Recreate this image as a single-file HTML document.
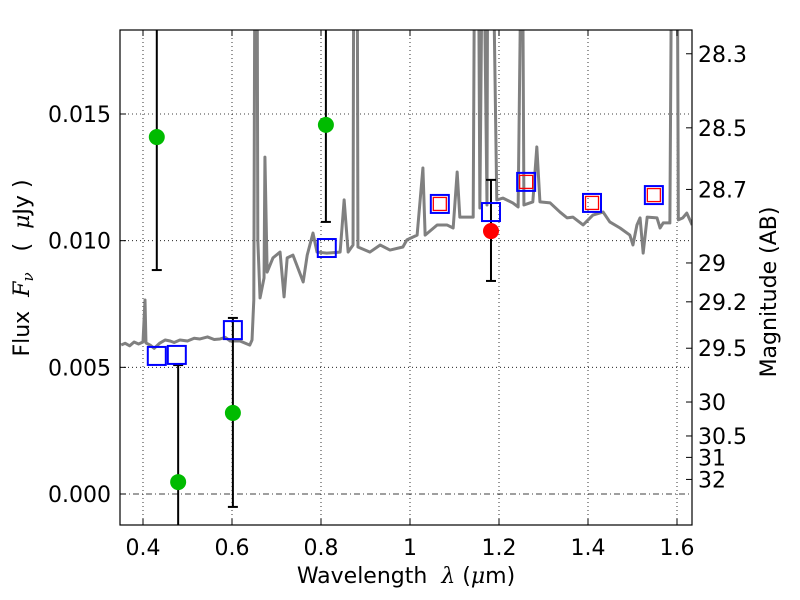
<!DOCTYPE html>
<html><head><meta charset="utf-8"><style>
body{margin:0;background:#fff;}
svg{display:block;font-family:"DejaVu Sans","Liberation Sans",sans-serif;}
</style></head><body>
<svg id="chart" width="800" height="600" xmlns="http://www.w3.org/2000/svg"></svg>
<script>
// data
const specWave=[0.351,0.360,0.370,0.380,0.390,0.400,0.4045,0.4067,0.416,0.425,0.438,0.450,0.461,0.470,0.483,0.500,0.515,0.528,0.545,0.560,0.573,0.585,0.596,0.618,0.634,0.640,0.645,0.649,0.652,0.656,0.658,0.663,0.672,0.674,0.679,0.692,0.708,0.717,0.724,0.737,0.760,0.769,0.782,0.791,0.813,0.843,0.852,0.861,0.872,0.874,0.881,0.883,0.910,0.933,0.955,0.984,0.993,1.016,1.029,1.034,1.061,1.083,1.097,1.106,1.112,1.142,1.146,1.153,1.157,1.164,1.173,1.175,1.184,1.195,1.209,1.231,1.243,1.252,1.256,1.276,1.285,1.292,1.315,1.337,1.353,1.366,1.389,1.411,1.434,1.449,1.472,1.494,1.501,1.510,1.517,1.524,1.533,1.555,1.562,1.569,1.584,1.589,1.600,1.603,1.613,1.622,1.634];
const specFlux=[5.88,5.95,5.85,6.00,5.92,6.00,7.66,5.96,5.88,5.75,5.96,6.08,6.04,5.98,6.08,6.04,6.15,6.12,6.20,6.10,6.12,6.18,6.04,6.04,5.92,5.88,6.08,7.66,25,25,10.03,7.74,8.53,13.30,8.76,9.32,9.55,7.78,9.32,9.43,8.37,9.43,10.30,9.55,9.51,9.55,11.61,9.55,9.83,25,25,9.75,9.55,9.83,9.63,9.75,10.03,10.22,12.87,10.22,10.62,10.62,10.50,12.71,10.93,10.93,25,25,11.29,25,11.41,25,25,11.61,11.68,11.49,11.33,25,11.41,11.53,13.70,11.53,11.49,11.13,10.90,10.93,10.62,11.01,11.13,10.74,10.50,10.22,9.83,10.62,10.90,9.51,10.93,10.90,10.50,10.70,10.70,25,25,10.82,10.90,11.09,10.62];
const greenWave=[0.431,0.479,0.602,0.811];
const greenFlux=[14.09,0.47,3.20,14.57];
const greenLo=[8.84,-5,-0.51,10.74];
const greenHi=[25,5.09,6.95,25];
const redWave=[1.182];
const redFlux=[10.38];
const redLo=[8.41];
const redHi=[12.40];
const blueWave=[0.431,0.476,0.602,0.813,1.067,1.182,1.261,1.409,1.548];
const blueFlux=[5.45,5.49,6.47,9.71,11.45,11.13,12.32,11.49,11.80];
const modelWave=[1.067,1.261,1.409,1.548];
const modelFlux=[11.45,12.32,11.49,11.80];
const xTicks=[0.4,0.6,0.8,1.0,1.2,1.4,1.6];
const xTickLabels=["0.4","0.6","0.8","1","1.2","1.4","1.6"];
const yTicks=[0,5,10,15];
const yTickLabels=["0.000","0.005","0.010","0.015"];
const magTicks=[28.3,28.5,28.7,29,29.2,29.5,30,30.5,31,32];
const magLabels=["28.3","28.5","28.7","29","29.2","29.5","30","30.5","31","32"];

const L=120,R=692,T=30,B=525;
const X=w=>143+(w-0.4)*445;
const Y=f=>494-f*25.333;
const svg=document.getElementById('chart');
const NS='http://www.w3.org/2000/svg';
function mk(tag,attrs,parent){const e=document.createElementNS(NS,tag);for(const k in attrs)e.setAttribute(k,attrs[k]);(parent||svg).appendChild(e);return e;}
mk('defs',{}).innerHTML='<clipPath id="clip"><rect x="120" y="30" width="572" height="495"/></clipPath>';
const plot=mk('g',{'clip-path':'url(#clip)'});


xTicks.forEach(t=>{const l=mk('line',{x1:X(t),x2:X(t),y1:T,y2:B,stroke:'#000','stroke-width':0.8,'stroke-dasharray':'1,3'},plot);

});
yTicks.forEach(t=>{if(t===0)return;const l=mk('line',{x1:L,x2:R,y1:Y(t),y2:Y(t),stroke:'#000','stroke-width':0.8,'stroke-dasharray':'1,3'},plot);

});
const zl=mk('line',{x1:L,x2:R,y1:Y(0),y2:Y(0),stroke:'#000','stroke-width':0.8,'stroke-dasharray':'6,3,1,3'},plot);


const sp=mk('polyline',{points:specWave.map((w,i)=>X(w)+','+Y(specFlux[i])).join(' '),fill:'none',stroke:'#808080','stroke-width':3,'stroke-linejoin':'round'},plot);


function err(w,lo,hi,name){const g=mk('g',{},plot);


mk('line',{x1:X(w),x2:X(w),y1:Y(lo),y2:Y(hi),stroke:'#000','stroke-width':2},g);
[lo,hi].forEach(v=>mk('line',{x1:X(w)-5,x2:X(w)+5,y1:Y(v),y2:Y(v),stroke:'#000','stroke-width':2},g));}
greenWave.forEach((w,i)=>err(w,greenLo[i],greenHi[i],'green-error-bar'));
redWave.forEach((w,i)=>err(w,redLo[i],redHi[i],'red-error-bar'));
blueWave.forEach((w,i)=>{const r=mk('rect',{x:X(w)-9,y:Y(blueFlux[i])-9,width:18,height:18,fill:'none',stroke:'#0000ff','stroke-width':2},plot);

});
modelWave.forEach((w,i)=>{const r=mk('rect',{x:X(w)-6.5,y:Y(modelFlux[i])-6.5,width:13,height:13,fill:'none',stroke:'#ff0000','stroke-width':1.3},plot);

});
greenWave.forEach((w,i)=>{const c=mk('circle',{cx:X(w),cy:Y(greenFlux[i]),r:8,fill:'#00bb00'},plot);

});
redWave.forEach((w,i)=>{const c=mk('circle',{cx:X(w),cy:Y(redFlux[i]),r:8,fill:'#ff0000'},plot);

});
const fr=mk('rect',{x:L,y:T,width:R-L,height:B-T,fill:'none',stroke:'#000','stroke-width':1.2});


xTicks.forEach((t,i)=>{mk('line',{x1:X(t),x2:X(t),y1:B,y2:B-6,stroke:'#000'});mk('line',{x1:X(t),x2:X(t),y1:T,y2:T+6,stroke:'#000'});
const tx=mk('text',{x:X(t),y:555,'font-size':22,'text-anchor':'middle'});tx.textContent=xTickLabels[i];

});
yTicks.forEach((t,i)=>{mk('line',{x1:L,x2:L+6,y1:Y(t),y2:Y(t),stroke:'#000'});
const tx=mk('text',{x:111,y:Y(t)+8,'font-size':22,'text-anchor':'end'});tx.textContent=yTickLabels[i];

});
magTicks.forEach((m,i)=>{const f=Math.pow(10,-(m-23.9)/2.5)*1000;const y=Y(f);
mk('line',{x1:R,x2:R-6,y1:y,y2:y,stroke:'#000'});
const tx=mk('text',{x:698,y:y+8,'font-size':22});tx.textContent=magLabels[i];

});
const xl=mk('text',{x:406,y:583,'font-size':22,'text-anchor':'middle','xml:space':'preserve'});
xl.setAttributeNS('http://www.w3.org/XML/1998/namespace','xml:space','preserve');
xl.innerHTML='Wavelength  <tspan font-family="DejaVu Serif,serif" font-style="italic">λ</tspan> (<tspan font-family="DejaVu Serif,serif" font-style="italic">μ</tspan>m)';


const yl=mk('text',{transform:'translate(29,268) rotate(-90)','font-size':22,'text-anchor':'middle'});
yl.setAttributeNS('http://www.w3.org/XML/1998/namespace','xml:space','preserve');
yl.innerHTML='Flux  <tspan font-family="DejaVu Serif,serif" font-style="italic">F</tspan><tspan font-family="DejaVu Serif,serif" font-style="italic" font-size="15" dy="4">ν</tspan><tspan dy="-4">   (  </tspan><tspan font-family="DejaVu Serif,serif" font-style="italic">μ</tspan>Jy )';


const rl=mk('text',{transform:'translate(776,292) rotate(-90)','font-size':22,'text-anchor':'middle'});
rl.textContent='Magnitude (AB)';


</script>
</body></html>
